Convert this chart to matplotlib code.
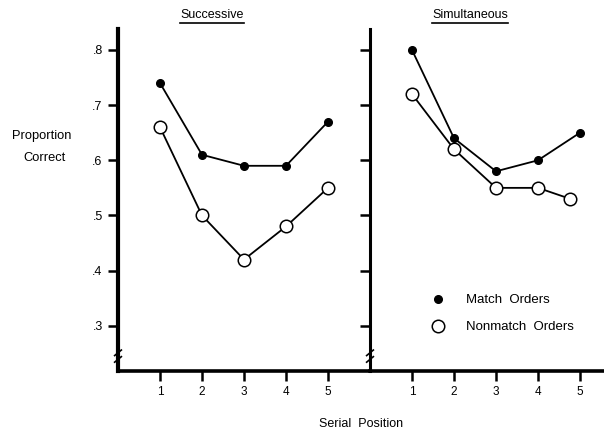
import matplotlib
matplotlib.use("Agg")
import matplotlib.pyplot as plt

plt.rcParams['font.family'] = ['Liberation Sans', 'DejaVu Sans']

positions = [1, 2, 3, 4, 5]
succ_match = [0.74, 0.61, 0.59, 0.59, 0.67]
succ_nonmatch = [0.66, 0.50, 0.42, 0.48, 0.55]
sim_match = [0.80, 0.64, 0.58, 0.60, 0.65]
sim_nonmatch_x = [1, 2, 3, 4, 4.77]
sim_nonmatch = [0.72, 0.62, 0.55, 0.55, 0.53]
yticks = [0.3, 0.4, 0.5, 0.6, 0.7, 0.8]
yticklabels = ['.3', '.4', '.5', '.6', '.7', '.8']
panel_titles = ['Successive', 'Simultaneous']

W, H = 604, 433
fig = plt.figure(figsize=(W / 100, H / 100), dpi=100)

def fx(px):
    return px / W

def fy(py):
    return 1 - py / H

ax_bottom = fy(371)
ax_top = fy(29)
axL = fig.add_axes([fx(118), ax_bottom, fx(370) - fx(118), ax_top - ax_bottom])
axR = fig.add_axes([fx(370), ax_bottom, fx(604) - fx(370), ax_top - ax_bottom])

ylim = (0.218, 0.838)
axL.set_xlim(0, 6)
axR.set_xlim(0, 234 / 42)

def style(ax, lw_left):
    ax.set_ylim(*ylim)
    for s in ['top', 'right']:
        ax.spines[s].set_visible(False)
    ax.spines['left'].set_linewidth(lw_left)
    ax.spines['bottom'].set_linewidth(2.6)
    ax.set_xticks(positions)
    ax.set_xticklabels([str(p) for p in positions], fontsize=8.5)
    ax.set_yticks(yticks)
    ax.tick_params(axis='y', direction='out', length=7, width=1.8, pad=4)
    ax.tick_params(axis='x', direction='out', length=7, width=1.8, pad=4)
    ax.patch.set_visible(False)

style(axL, 3.0)
style(axR, 2.2)
axL.set_yticklabels(yticklabels, fontsize=9)
axR.set_yticklabels([])

MS_FILLED = 5.5
MS_OPEN = 9

def plot_panel(ax, xm, ym, xn, yn):
    ax.plot(xm, ym, color='black', lw=1.3, marker='o', markersize=MS_FILLED,
            markerfacecolor='black', markeredgecolor='black', zorder=3, clip_on=False)
    ax.plot(xn, yn, color='black', lw=1.3, marker='o', markersize=MS_OPEN,
            markerfacecolor='white', markeredgecolor='black', markeredgewidth=1.1,
            zorder=4, clip_on=False)

plot_panel(axL, positions, succ_match, positions, succ_nonmatch)
plot_panel(axR, positions, sim_match, sim_nonmatch_x, sim_nonmatch)

# axis break marks
for ax in (axL, axR):
    for dy in (-0.006, 0.006):
        ax.plot([-0.08, 0.08], [0.245 + dy - 0.005, 0.245 + dy + 0.005],
                transform=ax.transData,
                color='black', lw=1.2, clip_on=False, zorder=5)

# titles with underline
titles = []
for cx, title in zip([212, 470], panel_titles):
    titles.append(fig.text(fx(cx), fy(15), title, ha='center', va='center', fontsize=9))
fig.canvas.draw()
r = fig.canvas.get_renderer()
for t in titles:
    bb = t.get_window_extent(r)
    y = bb.y0 - 2
    fig.add_artist(plt.Line2D([bb.x0 / W, bb.x1 / W], [y / H, y / H],
                              transform=fig.transFigure, color='black', lw=1.2))

fig.text(fx(42), fy(136), 'Proportion', ha='center', va='center', fontsize=9.3)
fig.text(fx(44), fy(158), 'Correct', ha='center', va='center', fontsize=9.3)
fig.text(fx(361), fy(424), 'Serial  Position', ha='center', va='center', fontsize=9)

# legend
fig.add_artist(plt.Line2D([fx(438)], [fy(299)], marker='o', markersize=MS_FILLED,
                          color='black', transform=fig.transFigure))
fig.add_artist(plt.Line2D([fx(438)], [fy(326)], marker='o', markersize=MS_OPEN,
                          markerfacecolor='white', markeredgecolor='black',
                          markeredgewidth=1.1, transform=fig.transFigure))
fig.text(fx(466), fy(300), 'Match  Orders', ha='left', va='center', fontsize=9.5)
fig.text(fx(466), fy(327), 'Nonmatch  Orders', ha='left', va='center', fontsize=9.5)

fig.savefig('out.png', dpi=100)
